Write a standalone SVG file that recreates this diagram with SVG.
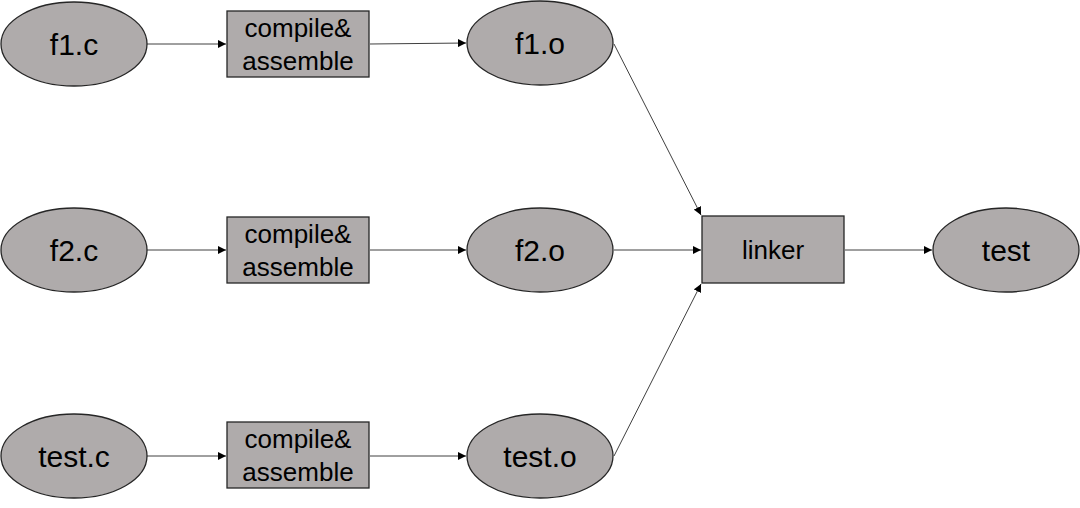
<svg xmlns="http://www.w3.org/2000/svg" width="1080" height="508" viewBox="0 0 1080 508">
<style>
.n{fill:#AFABAB;stroke:#262626;stroke-width:1.3}
.big{font-family:"Liberation Sans",Arial,sans-serif;font-size:30px;fill:#000;text-anchor:middle}
.sm{font-family:"Liberation Sans",Arial,sans-serif;font-size:26px;fill:#000;text-anchor:middle}
.c{stroke:#404040;stroke-width:1;fill:none;marker-end:url(#a)}
</style>
<defs>
<marker id="a" viewBox="0 0 10 10" refX="10" refY="5" markerWidth="8" markerHeight="8" markerUnits="userSpaceOnUse" orient="auto">
<path d="M0,0 L10,5 L0,10 z" fill="#000"/>
</marker>
</defs>
<g id="connectors">
<line class="c" x1="147" y1="44" x2="226" y2="44"/>
<line class="c" x1="370" y1="44" x2="466" y2="43"/>
<line class="c" x1="147" y1="250" x2="226" y2="250"/>
<line class="c" x1="370" y1="250" x2="466" y2="250"/>
<line class="c" x1="147" y1="456" x2="226" y2="456"/>
<line class="c" x1="370" y1="456" x2="466" y2="456"/>
<line class="c" x1="614" y1="44" x2="701" y2="215"/>
<line class="c" x1="614" y1="250" x2="701" y2="250"/>
<line class="c" x1="614" y1="456" x2="701" y2="284"/>
<line class="c" x1="845" y1="250" x2="932" y2="250"/>
</g>
<g id="f1c"><ellipse class="n" cx="74" cy="44" rx="73" ry="42"/><text class="big" x="74" y="55">f1.c</text></g>
<g id="cmp1"><rect class="n" x="227" y="11" width="142" height="66"/><text class="sm" x="298" y="37">compile&amp;</text><text class="sm" x="298" y="70">assemble</text></g>
<g id="f1o"><ellipse class="n" cx="540" cy="43" rx="73" ry="42"/><text class="big" x="540" y="54">f1.o</text></g>
<g id="f2c"><ellipse class="n" cx="74" cy="250" rx="73" ry="42"/><text class="big" x="74" y="261">f2.c</text></g>
<g id="cmp2"><rect class="n" x="227" y="217" width="142" height="66"/><text class="sm" x="298" y="243">compile&amp;</text><text class="sm" x="298" y="276">assemble</text></g>
<g id="f2o"><ellipse class="n" cx="540" cy="250" rx="73" ry="42"/><text class="big" x="540" y="261">f2.o</text></g>
<g id="testc"><ellipse class="n" cx="74" cy="456" rx="73" ry="42"/><text class="big" x="74" y="467">test.c</text></g>
<g id="cmp3"><rect class="n" x="227" y="422" width="142" height="66"/><text class="sm" x="298" y="448">compile&amp;</text><text class="sm" x="298" y="481">assemble</text></g>
<g id="testo"><ellipse class="n" cx="540" cy="456" rx="73" ry="42"/><text class="big" x="540" y="467">test.o</text></g>
<g id="linker"><rect class="n" x="702" y="216" width="142" height="67"/><text class="sm" x="773" y="259">linker</text></g>
<g id="test"><ellipse class="n" cx="1006" cy="250" rx="73" ry="42"/><text class="big" x="1006" y="261">test</text></g>
</svg>
